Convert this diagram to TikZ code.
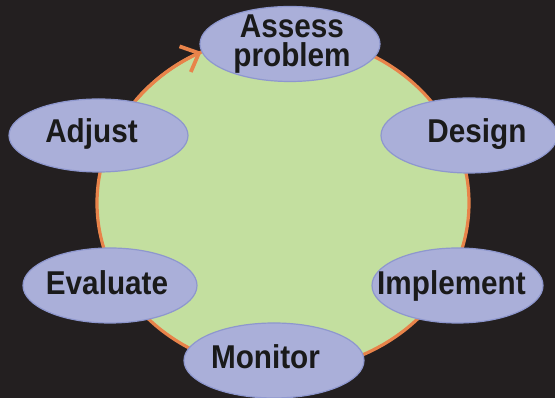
\documentclass[tikz,border=0pt]{standalone}
\usepackage{fontspec}
\newfontfamily\lblfont[FakeStretch=0.9]{Liberation Sans}
\usetikzlibrary{shapes.geometric, arrows.meta}
\definecolor{bg}{HTML}{231F20}
\definecolor{ringgreen}{HTML}{C3DF9F}
\definecolor{ringorange}{HTML}{E8834A}
\definecolor{pillfill}{HTML}{AAAFD9}
\definecolor{pilledge}{HTML}{8E97CE}
\definecolor{txtcol}{HTML}{1A1A1A}
\tikzset{
  pill/.style={ellipse, fill=pillfill, draw=pilledge, line width=1.2pt, inner sep=0pt},
  lbl/.style={font=\lblfont\bfseries\fontsize{33}{29}\selectfont, text=txtcol, inner sep=0pt, align=center},
  ringline/.style={draw=ringorange, line width=3.2pt},
}
\begin{document}
\begin{tikzpicture}[x=1pt,y=1pt]
  \useasboundingbox (0,0) rectangle (555,398);
  \fill[bg] (0,0) rectangle (555,398);
  % ring
  \node[ellipse, fill=ringgreen, ringline, minimum width=372pt, minimum height=336pt, inner sep=0pt] (ring) at (283,195) {};
  % pills
  \node[pill, minimum width=180pt, minimum height=75pt] (assess) at (290,354) {};
  \node[pill, minimum width=179pt, minimum height=73pt] (adjust) at (98.5,262.5) {};
  \node[pill, minimum width=176pt, minimum height=75pt] (design) at (469,262.5) {};
  \node[pill, minimum width=174pt, minimum height=75pt] (evaluate) at (110,112.5) {};
  \node[pill, minimum width=171pt, minimum height=75pt] (implement) at (457.5,112.5) {};
  \node[pill, minimum width=180pt, minimum height=75pt] (monitor) at (274,37.5) {};
  % arrow into Assess problem
  \draw[ringline, -{Straight Barb[length=15pt,width=28pt,line width=3.8pt]}] (ring.center) ++(142:186pt and 168pt) arc[start angle=142, end angle=116, x radius=186pt, y radius=168pt];
  % labels
  \node[lbl] (assessT) at (292,354) {Assess\\problem};
  \node[lbl, anchor=base] (adjustT) at (91.5,255) {Adjust};
  \node[lbl, anchor=base] (designT) at (477,255) {Design};
  \node[lbl, anchor=base] (evaluateT) at (107,103) {Evaluate};
  \node[lbl, anchor=base] (implementT) at (451.5,103) {Implement};
  \node[lbl, anchor=base] (monitorT) at (265.5,29) {Monitor};
\end{tikzpicture}
\end{document}
